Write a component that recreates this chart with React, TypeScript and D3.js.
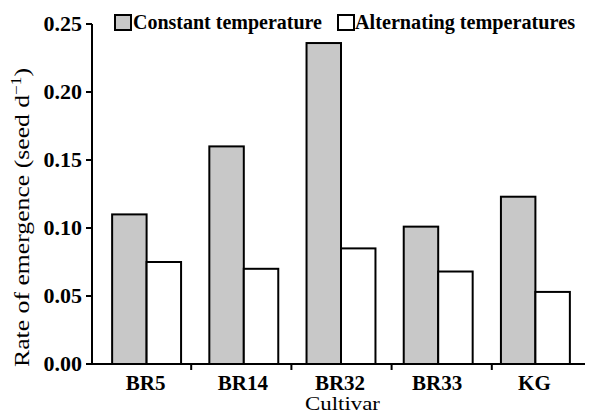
// App.tsx
// Rate of emergence by cultivar: grouped bar chart (constant vs alternating temperature)
import React, { useRef, useEffect } from "react";
import * as d3 from "d3";

const cultivars = ["BR5", "BR14", "BR32", "BR33", "KG"];
const constantTemp = [0.110, 0.160, 0.236, 0.101, 0.123];
const alternatingTemp = [0.075, 0.070, 0.085, 0.068, 0.053];
const seriesNames = ["Constant temperature", "Alternating temperatures"];
const seriesColors = ["#c8c8c8", "#ffffff"];
const yTicks = [0, 0.05, 0.1, 0.15, 0.2, 0.25];

const W = 593;
const H = 420;
const FONT = "\"Liberation Serif\"";

const App = () => {
  const ref = useRef<SVGSVGElement>(null);

  useEffect(() => {
    const svg = d3.select(ref.current);
    svg.selectAll("*").remove();

    const left = 92, right = 593, top = 24, bottom = 364;

    // axis ticks use the full axis; bars sit on a slightly narrower band (as in the original)
    const xAxisScale = d3.scaleBand().domain(cultivars).range([left, right]);
    const x = d3.scaleBand().domain(cultivars).range([98, 584]);
    const xSub = d3.scaleBand().domain(seriesNames).range([0, x.bandwidth()]).paddingOuter(0.41);
    const y = d3.scaleLinear().domain([0, 0.25]).range([bottom, top]);

    const series = [constantTemp, alternatingTemp];

    // bars
    const g = svg.append("g");
    cultivars.forEach((c, i) => {
      series.forEach((vals, s) => {
        g.append("rect")
          .attr("x", (x(c) as number) + (xSub(seriesNames[s]) as number))
          .attr("y", y(vals[i]))
          .attr("width", xSub.bandwidth())
          .attr("height", y(0) - y(vals[i]))
          .attr("fill", seriesColors[s])
          .attr("stroke", "#000")
          .attr("stroke-width", 2);
      });
    });

    // y axis
    const yAxis = svg.append("g");
    yAxis.append("line")
      .attr("x1", left).attr("x2", left)
      .attr("y1", y(0.25)).attr("y2", y(0))
      .attr("stroke", "#000").attr("stroke-width", 2);
    yTicks.forEach(t => {
      yAxis.append("line")
        .attr("x1", left - 6).attr("x2", left)
        .attr("y1", y(t)).attr("y2", y(t))
        .attr("stroke", "#000").attr("stroke-width", 2);
      yAxis.append("text")
        .attr("x", 82).attr("y", y(t) + 7)
        .attr("text-anchor", "end")
        .attr("font-family", FONT).attr("font-weight", "bold").attr("font-size", 22)
        .text(d3.format(".2f")(t));
    });

    // x axis
    const xAxis = svg.append("g");
    xAxis.append("line")
      .attr("x1", left - 6).attr("x2", right)
      .attr("y1", bottom).attr("y2", bottom)
      .attr("stroke", "#000").attr("stroke-width", 2);
    cultivars.forEach(c => {
      const xe = (xAxisScale(c) as number) + xAxisScale.bandwidth();
      xAxis.append("line")
        .attr("x1", xe - 1).attr("x2", xe - 1)
        .attr("y1", bottom).attr("y2", bottom + 6)
        .attr("stroke", "#000").attr("stroke-width", 2);
      xAxis.append("text")
        .attr("x", (x(c) as number) + x.bandwidth() / 2 - 1)
        .attr("y", 390)
        .attr("text-anchor", "middle")
        .attr("font-family", FONT).attr("font-weight", "bold").attr("font-size", 21)
        .text(c);
    });

    // axis titles
    svg.append("text")
      .attr("x", 305).attr("y", 410)
      .attr("textLength", 75).attr("lengthAdjust", "spacingAndGlyphs")
      .attr("font-family", FONT).attr("font-size", 19)
      .text("Cultivar");

    const yt = svg.append("text")
      .attr("transform", "translate(29 367) rotate(-90)")
      .attr("textLength", 299).attr("lengthAdjust", "spacingAndGlyphs")
      .attr("font-family", FONT).attr("font-size", 21);
    yt.append("tspan").text("Rate of emergence (seed d");
    yt.append("tspan").attr("dy", -8).attr("font-size", 14).text("\u22121");
    yt.append("tspan").attr("dy", 8).text(")");

    // legend
    const legend = [
      { x: 115, tx: 133, tw: 189 },
      { x: 338, tx: 355, tw: 220 },
    ];
    legend.forEach((l, s) => {
      svg.append("rect")
        .attr("x", l.x).attr("y", 15)
        .attr("width", 16).attr("height", 15)
        .attr("fill", seriesColors[s])
        .attr("stroke", "#000").attr("stroke-width", 2);
      svg.append("text")
        .attr("x", l.tx).attr("y", 29)
        .attr("textLength", l.tw).attr("lengthAdjust", "spacingAndGlyphs")
        .attr("font-family", FONT).attr("font-weight", "bold").attr("font-size", 20)
        .text(seriesNames[s]);
    });
  }, []);

  return (
    <div style={{ margin: -8 }}>
      <svg ref={ref} width={W} height={H} viewBox={`0 0 ${W} ${H}`} style={{ display: "block", background: "#fff" }} />
    </div>
  );
};

export default App;

// eof
